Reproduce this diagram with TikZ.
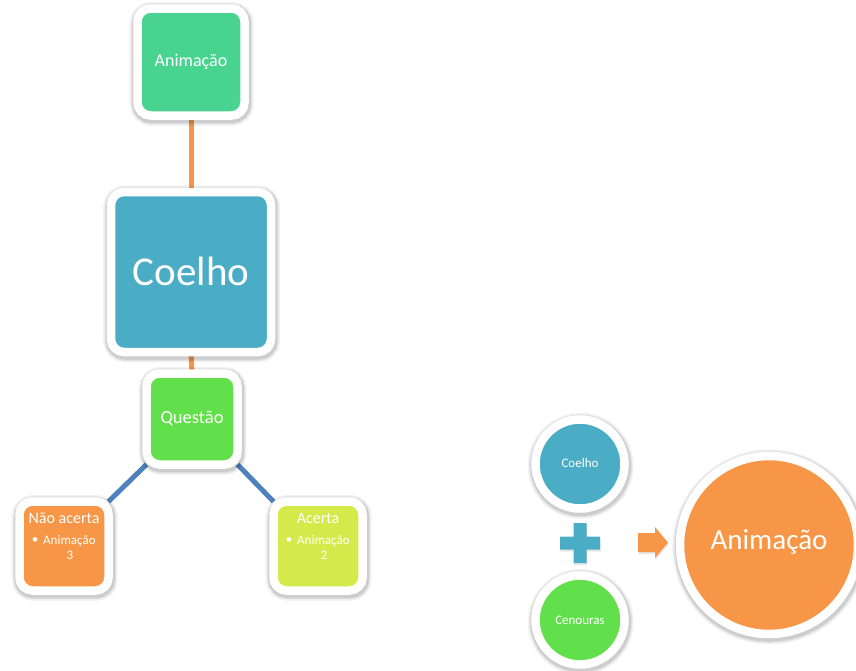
\documentclass[tikz,border=0pt]{standalone}
\usepackage{fontspec}
\setmainfont{Carlito}
\usetikzlibrary{shadows,calc,backgrounds}
\definecolor{cTeal}{HTML}{48D490}
\definecolor{cBlue}{HTML}{4BACC6}
\definecolor{cGreen}{HTML}{62E04B}
\definecolor{cOrange}{HTML}{F79646}
\definecolor{cLime}{HTML}{D4EA4B}
\definecolor{cLine}{HTML}{4F81BD}
\begin{document}
\begin{tikzpicture}[x=1pt,y=-1pt,
  softshadow/.style={
    drop shadow={shadow xshift=0.7pt, shadow yshift=-1.8pt, opacity=0.05, fill=black, draw=black, line width=17pt},
    drop shadow={shadow xshift=0.7pt, shadow yshift=-1.8pt, opacity=0.07, fill=black, draw=black, line width=14pt},
    drop shadow={shadow xshift=0.7pt, shadow yshift=-1.8pt, opacity=0.09, fill=black, draw=black, line width=11.5pt}},
  sqbox/.style={rectangle, rounded corners=13pt, draw=white, line width=8.5pt, inner sep=0pt, outer sep=0pt, softshadow},
  circbox/.style={circle, draw=white, line width=8.5pt, inner sep=0pt, outer sep=0pt, softshadow},
  txt/.style={text=white, inner sep=0pt},
  orangeline/.style={draw=cOrange, line width=5pt},
  blueline/.style={draw=cLine, line width=5pt},
  smallshadow/.style={drop shadow={opacity=0.2, shadow xshift=0.5pt, shadow yshift=-2pt}},
]
\useasboundingbox (0,0) rectangle (856,670);

% left tree
\node[sqbox, fill=cTeal, minimum size=107pt] (anim) at (191,62) {};
\node[sqbox, fill=cBlue, minimum size=160pt] (coel) at (191,272) {};
\node[sqbox, fill=cGreen, minimum size=91pt] (ques) at (192,419) {};
\node[sqbox, fill=cOrange, minimum size=89pt] (nao) at (64,546) {};
\node[sqbox, fill=cLime, minimum size=89pt] (acer) at (318,546) {};

\begin{scope}[on background layer]
\draw[orangeline] (anim.south) -- (coel.north);
\draw[orangeline] (coel.south) -- (ques.north);
\draw[blueline] (ques.south west) -- (nao.north east);
\draw[blueline] (ques.south east) -- (acer.north west);
\end{scope}

\node[txt, font=\fontsize{18}{20}\selectfont] (tanim) at (191,62) {Animação};
\node[txt, font=\fontsize{41}{45}\selectfont] (tcoel) at (191,271) {Coelho};
\node[txt, font=\fontsize{18.5}{20}\selectfont] (tques) at (192,419) {Questão};

\node[txt, font=\fontsize{16}{18}\selectfont] (tnao) at (64,518) {Não acerta};
\node[txt, font=\fontsize{13}{15}\selectfont] (bnao) at (35,541) {•};
\node[txt, font=\fontsize{13}{15}\selectfont, anchor=west] (lnao) at (43,541) {Animação};
\node[txt, font=\fontsize{13}{15}\selectfont] (nnao) at (70,555) {3};

\node[txt, font=\fontsize{16}{18}\selectfont] (tacer) at (318,518) {Acerta};
\node[txt, font=\fontsize{13}{15}\selectfont] (bacer) at (289,541) {•};
\node[txt, font=\fontsize{13}{15}\selectfont, anchor=west] (lacer) at (297,541) {Animação};
\node[txt, font=\fontsize{13}{15}\selectfont] (nacer) at (324,555) {2};

% right equation
\node[circbox, fill=cBlue, minimum size=89pt] (rcoel) at (580,464) {};
\node[circbox, fill=cGreen, minimum size=89pt] (rcen) at (580,620) {};
\node[circbox, fill=cOrange, minimum size=178pt] (ranim) at (769,545) {};

\node[txt, font=\fontsize{13}{15}\selectfont] (trcoel) at (580,463) {Coelho};
\node[txt, font=\fontsize{13}{15}\selectfont] (trcen) at (580,620) {Cenouras};
\node[txt, font=\fontsize{29}{32}\selectfont] (tranim) at (769,542) {Animação};

% plus sign
\fill[cBlue, smallshadow]
  (573.5,523) -- (586.5,523) -- (586.5,536.5) -- (600,536.5) -- (600,549.5) -- (586.5,549.5)
  -- (586.5,563) -- (573.5,563) -- (573.5,549.5) -- (560,549.5) -- (560,536.5) -- (573.5,536.5) -- cycle;

% arrow
\fill[cOrange, smallshadow]
  (638,533) -- (655,533) -- (655,527) -- (668,542.5) -- (655,558) -- (655,552) -- (638,552) -- cycle;
\end{tikzpicture}
\end{document}
